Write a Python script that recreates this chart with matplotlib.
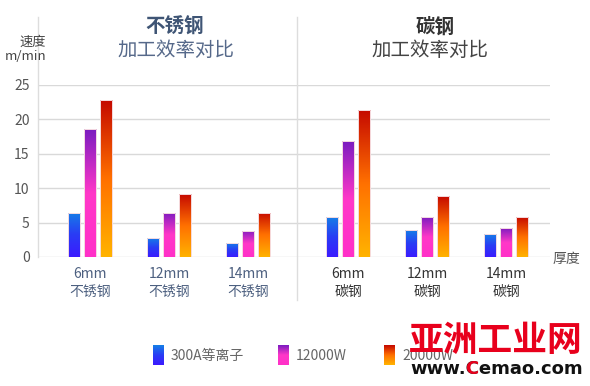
import numpy as np
import matplotlib
matplotlib.use('Agg')
import matplotlib.pyplot as plt
from matplotlib.lines import Line2D
from matplotlib.colors import to_rgb

plt.rcParams['font.family'] = ['Noto Sans CJK SC', 'DejaVu Sans']

# 数据
categories = ['6mm\n不锈钢', '12mm\n不锈钢', '14mm\n不锈钢', '6mm\n碳钢', '12mm\n碳钢', '14mm\n碳钢']
series_names = ['300A等离子', '12000W', '20000W']
plasma_300a = [6.4, 2.75, 2.0, 5.8, 3.9, 3.3]
fiber_12kw = [18.6, 6.4, 3.8, 16.8, 5.8, 4.2]
fiber_20kw = [22.8, 9.1, 6.4, 21.4, 8.8, 5.8]
yticks = [0, 5, 10, 15, 20, 25]

# 渐变色 (上 -> 下)
grads = [
    ['#1580e6', '#2a3cf5', '#3c1aff'],
    ['#7a1cc0', '#ff38c8', '#ff30c8'],
    ['#c40800', '#ff7000', '#ffb400'],
]

W, H = 590, 386
fig = plt.figure(figsize=(W / 100, H / 100), dpi=100)
fig.patch.set_facecolor('white')


def fx(px):
    return px / W


def fy(py):
    return 1 - py / H


ax = fig.add_axes([fx(38), fy(257), fx(550) - fx(38), fy(85) - fy(257)])
ax.set_ylim(0, 25)
ax.set_xlim(-0.658, 5.823)
for s in ax.spines.values():
    s.set_visible(False)
ax.set_yticks(yticks)
ax.tick_params(axis='y', length=0, labelsize=10, colors='#555555', pad=6)
ax.grid(axis='y', color='#d9d9d9', lw=1)
ax.set_axisbelow(True)

gap = 0.266
pos = np.array([i + (gap if i >= 3 else 0) for i in range(len(categories))])
bw = 0.152
step = 0.2025


def grad_img(stops, n=100):
    cols = np.array([to_rgb(c) for c in stops])
    t = np.linspace(0, 1, n)
    xs = np.linspace(0, 1, len(stops))
    img = np.stack([np.interp(t, xs, cols[:, k]) for k in range(3)], axis=1)
    return img[:, None, :]


for k, vals in enumerate([plasma_300a, fiber_12kw, fiber_20kw]):
    img = grad_img(grads[k])
    xs = pos + (k - 1) * step
    bars = ax.bar(xs, vals, width=bw, facecolor='none', edgecolor='#f6dde2',
                  lw=0.7, zorder=4)
    for b, x, v in zip(bars, xs, vals):
        im = ax.imshow(img, extent=[x - bw / 2 - 0.01, x + bw / 2 + 0.01, -0.1, v + 0.1],
                       aspect='auto', origin='upper', zorder=3, interpolation='bilinear')
        im.set_clip_path(b)

ax.set_xticks(pos)
ax.set_xticklabels(categories, fontsize=10, linespacing=1.35)
for i, lab in enumerate(ax.get_xticklabels()):
    lab.set_color('#4d6080' if i < 3 else '#333333')
ax.tick_params(axis='x', length=0, pad=7)
ax.set_xlim(-0.658, 5.823)
ax.set_ylim(0, 25)

# 轴线和分隔线
fig.add_artist(Line2D([fx(38), fx(38)], [fy(17), fy(257)], color='#dddddd', lw=1))
fig.add_artist(Line2D([fx(297), fx(297)], [fy(17), fy(300)], color='#dddddd', lw=1))

# 标题
fig.text(fx(175), fy(27), '不锈钢', ha='center', va='center', fontsize=14,
         fontweight='bold', color='#3f5575')
fig.text(fx(176), fy(50), '加工效率对比', ha='center', va='center', fontsize=14,
         color='#56698a')
fig.text(fx(435), fy(27), '碳钢', ha='center', va='center', fontsize=14,
         fontweight='bold', color='#333333')
fig.text(fx(430), fy(50), '加工效率对比', ha='center', va='center', fontsize=14,
         color='#444444')

fig.text(fx(46), fy(42), '速度', ha='right', va='center', fontsize=9.5, color='#444444')
fig.text(fx(46), fy(56), 'm/min', ha='right', va='center', fontsize=9.5, color='#444444')
fig.text(fx(553), fy(259), '厚度', ha='left', va='center', fontsize=10, color='#555555')

# 图例
leg_x = [153, 278, 384]
for k, name in enumerate(series_names):
    lax = fig.add_axes([fx(leg_x[k]), fy(365), 11 / W, 20 / H])
    lax.imshow(grad_img(grads[k]), aspect='auto', interpolation='bilinear')
    lax.axis('off')
    fig.text(fx(leg_x[k] + 18), fy(356), name, ha='left', va='center',
             fontsize=10, color='#666666')

# 水印
fig.text(fx(496), fy(340), '亚洲工业网', ha='center', va='center', fontsize=25,
         fontweight='bold', color='#e8001c')
wt = fig.text(fx(410), fy(369), 'www.Cemao.com', ha='left', va='center', fontsize=13,
              fontweight='bold', color='#111111', family='DejaVu Sans')
fig.canvas.draw()
r = fig.canvas.get_renderer()
pre = fig.text(fx(410), fy(369), 'www.', ha='left', va='center', fontsize=13,
               fontweight='bold', color='none', family='DejaVu Sans')
bb = pre.get_window_extent(r)
fig.text(bb.x1 / fig.dpi / fig.get_figwidth(), fy(369), 'C', ha='left', va='center',
         fontsize=13, fontweight='bold', color='#e8001c', family='DejaVu Sans')

fig.savefig('out.png', dpi=100, facecolor='white')
